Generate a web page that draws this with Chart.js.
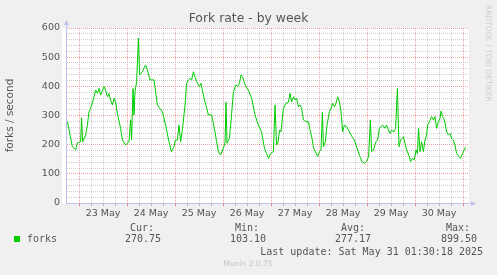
<!DOCTYPE html>
<html>
<head>
<meta charset="utf-8">
<script src="https://cdn.jsdelivr.net/npm/chart.js@4.4.0/dist/chart.umd.min.js"></script>
<style>
  html, body { margin: 0; padding: 0; background: #f0f0f0; }
  canvas { display: block; }
</style>
</head>
<body>
<canvas id="chart-forks" width="497" height="275"></canvas>
<script>
const hours = [-5.8, -3.3, -1.7, -0.8, 0.8, 1.3, 1.8, 3.3, 4.2, 5, 6.7, 8.3, 9.2, 10, 10.8, 12.5, 13.3, 14.2, 15, 15.8,
  16.7, 17.5, 18.3, 19.2, 20.8, 21.7, 23.3, 25, 25.8, 26.3, 27, 27.5, 28, 28.8, 29.7, 30.3, 31.7, 33.3, 34.2, 35.5,
  37.5, 39.2, 41.7, 43.3, 45, 46.2, 47.5, 48.2, 49.2, 50, 50.8, 51.8, 53, 53.8, 54.7, 55.5, 56.3, 57.2, 58, 58.8,
  60.2, 61, 61.8, 63, 64.7, 66.3, 67.2, 68, 68.8, 69.7, 70.8, 72.2, 73, 73.5, 74, 75.2, 76, 77.2, 78.5, 79.3,
  80.2, 81, 81.8, 83, 84.7, 86.3, 88, 89.7, 91.3, 92.7, 93.8, 94.8, 95.8, 97.2, 98, 98.8, 99.5, 100.3, 101, 102.2,
  103.5, 104.7, 105.5, 106.3, 107.2, 108.2, 108.8, 109.7, 110.5, 111.3, 112.2, 113.5, 114.7, 115.7, 116.5, 117.3, 118.2, 119.3, 120.2, 121,
  121.7, 122.2, 123.2, 124, 125.2, 126, 126.8, 127.7, 128.5, 129.3, 130.2, 131, 131.8, 132.7, 133.8, 135.2, 136.5, 137.7, 138.5, 139.3,
  140.5, 141.5, 142.7, 143.8, 144.8, 145.7, 146.3, 147.2, 148.5, 149.3, 150.2, 151, 151.8, 153, 153.8, 154.7, 155.5, 156.3, 157.5, 158.3,
  159.2, 160, 160.8, 162.2, 163, 163.8, 165.2, 165.8, 166.7, 167.7, 168.5, 169.2, 169.8, 170.5, 171.3, 172.2, 173, 173.8, 174.3, 175.2,
  176.3, 177.2, 178, 178.8, 179.7, 180.5, 181, 181.8, 182.7, 183.8, 184.7, 185.5, 186.3, 187.2, 188, 188.8, 190, 190.8, 191.8, 193, 193.5];
const forks = [279, 193, 182, 206, 210, 292, 210, 233, 267, 313, 342, 387, 376, 393, 370, 399, 387, 364, 375, 353,
  336, 359, 347, 307, 256, 216, 199, 210, 285, 216, 393, 302, 382, 416, 565, 439, 450, 473, 456, 422,
  422, 336, 313, 267, 210, 176, 193, 216, 216, 267, 210, 256, 336, 410, 422, 427, 422, 450, 433, 416,
  399, 410, 382, 347, 302, 302, 273, 244, 210, 176, 165, 188, 205, 345, 205, 222, 279, 382, 405, 399,
  410, 439, 433, 405, 387, 359, 302, 267, 244, 188, 170, 153, 170, 176, 336, 199, 208, 250, 244, 325,
  342, 345, 376, 347, 364, 353, 359, 330, 336, 325, 285, 279, 279, 244, 222, 188, 176, 159, 176, 182,
  311, 193, 210, 267, 313, 325, 342, 330, 342, 364, 347, 313, 244, 267, 262, 244, 227, 216, 199, 182,
  159, 142, 136, 142, 159, 285, 176, 182, 210, 216, 256, 262, 267, 256, 267, 250, 239, 250, 244, 256,
  393, 193, 216, 227, 205, 182, 159, 142, 153, 148, 182, 170, 256, 176, 210, 176, 216, 233, 267, 279,
  296, 285, 296, 256, 279, 290, 315, 296, 285, 244, 233, 239, 222, 216, 199, 170, 159, 153, 170, 188, 190];
const dayLabels = ['23 May', '24 May', '25 May', '26 May', '27 May', '28 May', '29 May', '30 May'];
const statNames = ['Cur:', 'Min:', 'Avg:', 'Max:'];
const statValues = ['270.75', '103.10', '277.17', '899.50'];

const textColor = '#555';
const axisColor = '#c0c0ee';
const majorGrid = 'rgba(230, 90, 90, 0.55)';
const minorGrid = 'rgba(150, 150, 150, 0.45)';

// grid every 6 hours, day boundary every 24
const gridHours = [];
dayLabels.forEach((d, i) => { [0, 6, 12, 18].forEach(o => gridHours.push(i * 24 + o)); });
gridHours.push(dayLabels.length * 24);

Chart.defaults.font.family = 'DejaVu Sans';

const muninFrame = {
  id: 'muninFrame',
  beforeDraw(chart) {
    const {ctx, chartArea: a} = chart;
    ctx.save();
    ctx.fillStyle = '#ffffff';
    ctx.fillRect(a.left - 4, a.top, a.right - a.left + 4, a.bottom - a.top + 1);
    ctx.restore();
  },
  afterDraw(chart) {
    const {ctx, chartArea: a} = chart;
    ctx.save();
    ctx.strokeStyle = axisColor;
    ctx.fillStyle = axisColor;
    ctx.lineWidth = 1;
    // axis arrows
    ctx.beginPath();
    ctx.moveTo(a.left + 0.5, a.top);
    ctx.lineTo(a.left + 0.5, a.top - 4);
    ctx.moveTo(a.right, a.bottom + 0.5);
    ctx.lineTo(a.right + 3, a.bottom + 0.5);
    ctx.stroke();
    ctx.beginPath();
    ctx.moveTo(a.left + 0.5, a.top - 8);
    ctx.lineTo(a.left - 2, a.top - 3);
    ctx.lineTo(a.left + 3, a.top - 3);
    ctx.fill();
    ctx.beginPath();
    ctx.moveTo(a.right + 7, a.bottom + 0.5);
    ctx.lineTo(a.right + 2, a.bottom - 2);
    ctx.lineTo(a.right + 2, a.bottom + 3);
    ctx.fill();

    // title
    ctx.fillStyle = textColor;
    ctx.textAlign = 'center';
    ctx.textBaseline = 'middle';
    ctx.font = '12.4px "DejaVu Sans"';
    ctx.fillText('Fork rate - by week', 248.5, 19);

    // legend
    ctx.fillStyle = '#00cc00';
    ctx.fillRect(14, 236, 6, 6);
    ctx.fillStyle = textColor;
    ctx.font = '10px "DejaVu Sans Mono"';
    ctx.textAlign = 'left';
    ctx.fillText('forks', 27, 239.5);
    ctx.textAlign = 'right';
    const nameX = [154, 259, 365, 470];
    const valX = [161, 266, 371, 477];
    statNames.forEach((n, i) => {
      ctx.fillText(n, nameX[i], 228);
      ctx.fillText(statValues[i], valX[i], 239.5);
    });
    ctx.fillText('Last update: Sat May 31 01:30:18 2025', 483, 252);

    ctx.textAlign = 'center';
    ctx.fillStyle = '#c4c4c4';
    ctx.font = '7.5px "DejaVu Sans"';
    ctx.fillText('Munin 2.0.75', 248, 264);

    // rrdtool credit, rotated
    ctx.translate(488, 5);
    ctx.rotate(Math.PI / 2);
    ctx.textAlign = 'left';
    ctx.fillStyle = '#cdcdcd';
    ctx.font = '7.5px "DejaVu Sans"';
    ctx.fillText('RRDTOOL / TOBI OETIKER', 0, 0);
    ctx.restore();
  }
};

new Chart(document.getElementById('chart-forks'), {
  type: 'line',
  data: {
    datasets: [{
      label: 'forks',
      data: hours.map((h, i) => ({x: h, y: forks[i]})),
      borderColor: '#00cc00',
      borderWidth: 1,
      pointRadius: 0,
      tension: 0
    }]
  },
  options: {
    responsive: false,
    animation: false,
    layout: { padding: { left: 0, right: 28, top: 28, bottom: 0 } },
    plugins: { legend: { display: false }, tooltip: { enabled: false }, title: { display: false } },
    scales: {
      x: {
        type: 'linear',
        min: -6.5,
        max: 195,
        afterBuildTicks: scale => { scale.ticks = gridHours.map(v => ({value: v})); },
        afterFit: scale => { scale.height = 72; },
        ticks: {
          autoSkip: false,
          maxRotation: 0,
          padding: 2,
          color: textColor,
          font: { size: 9.5 },
          callback: v => (v % 24 === 12 ? dayLabels[(v - 12) / 24] : '')
        },
        grid: {
          color: c => (c.tick && c.tick.value % 24 === 0 ? majorGrid : minorGrid),
          tickColor: c => (c.tick && c.tick.value % 24 === 0 ? 'rgba(230, 90, 90, 0.8)' : 'rgba(150, 150, 150, 0.6)'),
          tickLength: 3,
          lineWidth: 1
        },
        border: { color: axisColor, dash: [1, 1] }
      },
      y: {
        min: 0,
        max: 600,
        afterFit: scale => { scale.width = 66; },
        ticks: {
          stepSize: 20,
          autoSkip: false,
          padding: 6,
          color: textColor,
          font: { size: 9.5 },
          callback: v => (v % 100 === 0 ? v : '')
        },
        grid: {
          color: c => (c.tick && c.tick.value % 100 === 0 ? majorGrid : minorGrid),
          drawTicks: false,
          lineWidth: 1
        },
        border: { color: axisColor, dash: [1, 1] },
        title: {
          display: true,
          text: 'forks / second',
          color: textColor,
          font: { size: 10.5 },
          padding: { top: 4, bottom: 0 }
        }
      }
    }
  },
  plugins: [muninFrame]
});
</script>
</body>
</html>
